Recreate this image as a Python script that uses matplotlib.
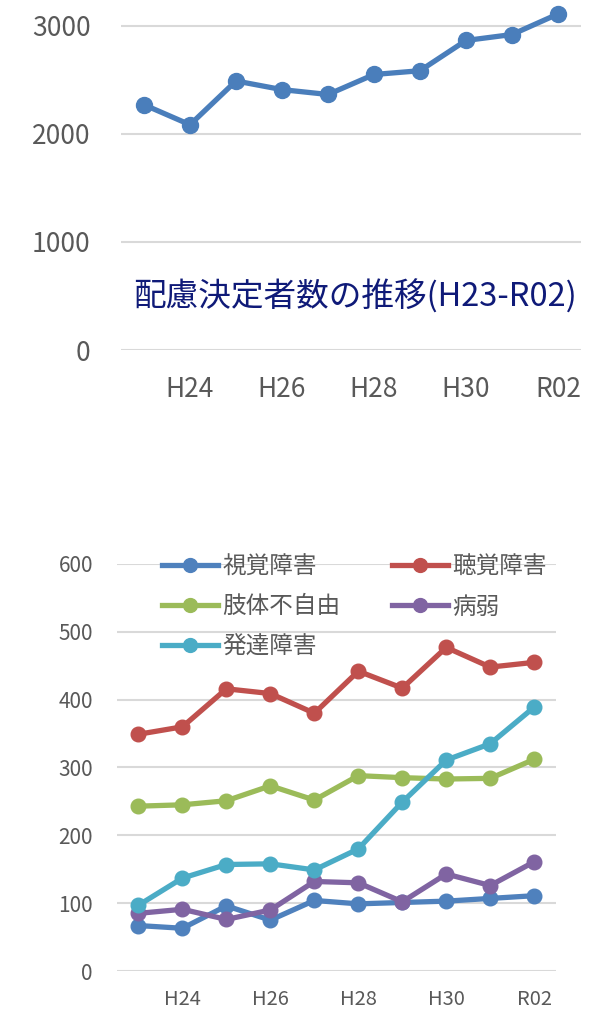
import matplotlib
matplotlib.use("Agg")
import matplotlib.pyplot as plt

plt.rcParams['font.family'] = ['Noto Sans CJK JP', 'DejaVu Sans']

# 年度 (H23 - R02)
years = ['H23', 'H24', 'H25', 'H26', 'H27', 'H28', 'H29', 'H30', 'H31', 'R02']
tick_labels = ['', 'H24', '', 'H26', '', 'H28', '', 'H30', '', 'R02']

# 配慮決定者数
total = [2270, 2085, 2490, 2410, 2365, 2550, 2585, 2865, 2920, 3110]

# 障害種別
visual = [67, 63, 96, 75, 104, 99, 101, 103, 107, 111]
hearing = [349, 360, 416, 409, 380, 442, 417, 477, 448, 455]
physical = [243, 245, 251, 273, 252, 288, 285, 283, 284, 312]
illness = [85, 91, 76, 90, 132, 130, 102, 143, 126, 161]
develop = [97, 137, 157, 158, 149, 180, 249, 311, 335, 389]

series = [
    ('視覚障害', visual, '#4f81bd'),
    ('聴覚障害', hearing, '#c0504d'),
    ('肢体不自由', physical, '#9bbb59'),
    ('病弱', illness, '#8064a2'),
    ('発達障害', develop, '#4bacc6'),
]

gray = '#595959'
grid = '#d9d9d9'

fig = plt.figure(figsize=(5.99, 10.14), dpi=100)

# 上のグラフ
ax1 = fig.add_axes([0.202, 0.6548, 0.768, 0.341])
x = range(len(years))
ax1.plot(x, total, color='#4a7ebb', lw=3.8, marker='o', ms=11.5, clip_on=False, zorder=3)
ax1.set_xlim(-0.5, len(years) - 0.5)
ax1.set_ylim(0, 3200)
ax1.set_yticks([0, 1000, 2000, 3000])
ax1.set_xticks(list(x))
ax1.set_xticklabels(tick_labels)
ax1.tick_params(length=0, labelsize=19, colors=gray, pad=19)
ax1.tick_params(axis='y', pad=22)
ax1.grid(axis='y', color=grid, lw=1.5)
ax1.set_axisbelow(True)
for s in ax1.spines.values():
    s.set_visible(False)
ax1.text(0.026, 0.155, '配慮決定者数の推移(H23-R02)', transform=ax1.transAxes,
         fontsize=23.5, color='#0f1a78', va='center', ha='left')

# 下のグラフ
ax2 = fig.add_axes([0.1945, 0.0424, 0.734, 0.4014])
handles = {}
for name, vals, col in series:
    ln, = ax2.plot(x, vals, color=col, lw=3.8, marker='o', ms=10.5, label=name,
                   clip_on=False, zorder=3)
    handles[name] = ln
ax2.set_xlim(-0.5, len(years) - 0.5)
ax2.set_ylim(0, 600)
ax2.set_yticks(range(0, 601, 100))
ax2.set_xticks(list(x))
ax2.set_xticklabels(tick_labels)
ax2.tick_params(length=0, labelsize=15, colors=gray, pad=17)
ax2.tick_params(axis='x', labelsize=14.5, pad=13)
ax2.grid(axis='y', color=grid, lw=1.5)
ax2.set_axisbelow(True)
for s in ax2.spines.values():
    s.set_visible(False)

# 凡例は行優先に並べる
order = ['視覚障害', '肢体不自由', '発達障害', '聴覚障害', '病弱']
leg = fig.legend([handles[k] for k in order], order, loc='upper left',
                 bbox_to_anchor=(0.2705, 0.4522), ncol=2,
                 frameon=False, fontsize=17, handlelength=2.35, handletextpad=0.2,
                 columnspacing=2.2, labelspacing=0.72, borderpad=0, borderaxespad=0,
                 markerscale=0.95)
for t in leg.get_texts():
    t.set_color(gray)

fig.savefig('out.png', dpi=100)
